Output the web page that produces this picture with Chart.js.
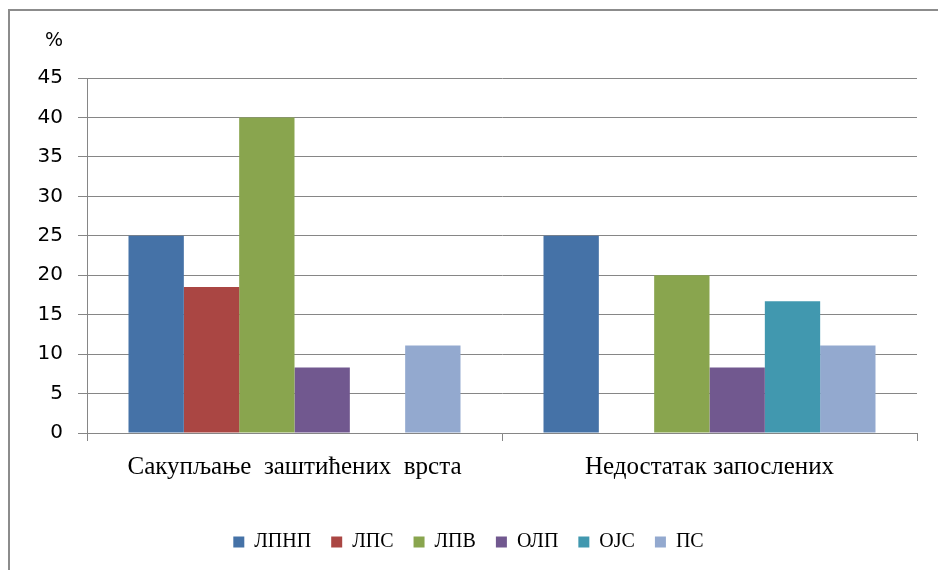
<!DOCTYPE html>
<html>
<head>
<meta charset="utf-8">
<script src="https://cdn.jsdelivr.net/npm/chart.js@4/dist/chart.umd.min.js"></script>
<style>
  html, body { margin: 0; padding: 0; background: #fff; }
  #wrap { position: relative; width: 938px; height: 570px; overflow: hidden; }
  #frame { position: absolute; left: 8px; top: 9px; width: 960px; height: 600px;
           border-left: 2px solid #8c8c8c; border-top: 2px solid #8c8c8c; }
  canvas { position: absolute; left: 0; top: 0; }
</style>
</head>
<body>
<div id="wrap">
  <div id="frame"></div>
  <canvas id="chart" width="938" height="570"></canvas>
</div>
<script>
var categories = ["Сакупљање  заштићених  врста", "Недостатак запослених"];
var seriesNames = ["ЛПНП", "ЛПС", "ЛПВ", "ОЛП", "ОЈС", "ПС"];
var seriesColors = ["#4572a7", "#aa4643", "#89a54e", "#71588f", "#4198af", "#93a9cf"];
var lpnp = [25, 25];
var lps = [18.5, 0];
var lpv = [40, 20];
var olp = [8.3, 8.3];
var ojs = [0, 16.7];
var ps = [11.1, 11.1];
var yTicks = [0, 5, 10, 15, 20, 25, 30, 35, 40, 45];
var unitLabel = "%";

var seriesData = [lpnp, lps, lpv, olp, ojs, ps];
var serif = "'Liberation Serif', 'Times New Roman', serif";
var sans = "'DejaVu Sans', Verdana, sans-serif";

var datasets = seriesNames.map(function (name, i) {
    return {
        label: name,
        data: seriesData[i],
        backgroundColor: seriesColors[i],
        borderWidth: 0,
        categoryPercentage: 0.8,
        barPercentage: 1.0
    };
});

// "%" drawn above the y tick labels
var unitPlugin = {
    id: "unitLabel",
    afterDraw: function (chart) {
        var ctx = chart.ctx;
        ctx.save();
        ctx.font = "19px " + sans;
        ctx.fillStyle = "#000";
        ctx.textAlign = "left";
        ctx.textBaseline = "middle";
        ctx.fillText(unitLabel, 45, chart.chartArea.top - 37);
        ctx.restore();
    }
};

var ctx = document.getElementById("chart").getContext("2d");
new Chart(ctx, {
    type: "bar",
    data: { labels: categories, datasets: datasets },
    plugins: [unitPlugin],
    options: {
        responsive: false,
        animation: false,
        devicePixelRatio: 1,
        layout: { padding: { left: 20, right: 21, top: 78, bottom: 8 } },
        scales: {
            x: {
                grid: {
                    display: true,
                    offset: true,
                    drawOnChartArea: false,
                    drawTicks: true,
                    tickLength: 8,
                    color: "#868686"
                },
                border: { display: true, color: "#868686", width: 1 },
                ticks: {
                    padding: 11,
                    color: "#000",
                    font: { family: serif, size: 25 }
                },
                afterFit: function (scale) { scale.height = 79; }
            },
            y: {
                min: 0,
                max: 45,
                afterBuildTicks: function (scale) {
                    scale.ticks = yTicks.map(function (v) { return { value: v }; });
                },
                grid: {
                    color: "#868686",
                    tickLength: 9,
                    drawTicks: true
                },
                border: { display: true, color: "#868686", width: 1 },
                ticks: {
                    padding: 15,
                    color: "#000",
                    font: { family: sans, size: 20 }
                },
                afterFit: function (scale) { scale.width = 67; }
            }
        },
        plugins: {
            legend: {
                position: "bottom",
                labels: {
                    boxWidth: 11,
                    boxHeight: 11,
                    padding: 20,
                    color: "#000",
                    font: { family: serif, size: 20 }
                }
            },
            tooltip: { enabled: false }
        }
    }
});
</script>
</body>
</html>
